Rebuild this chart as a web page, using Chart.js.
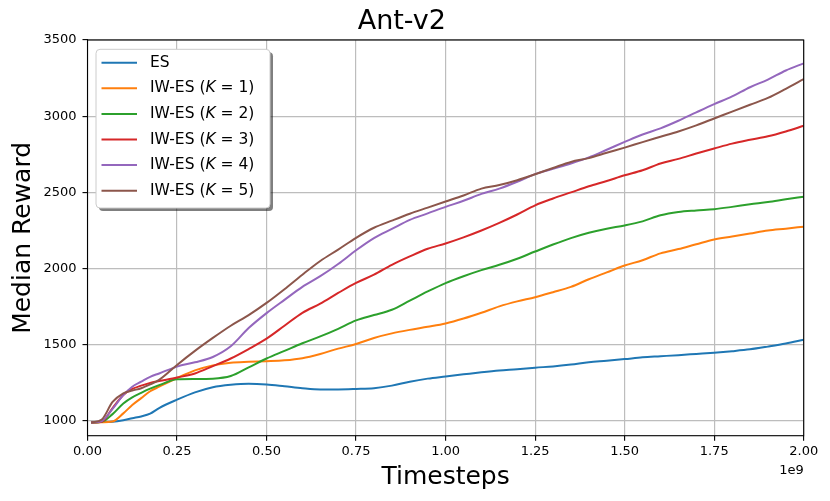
<!DOCTYPE html>
<html>
<head>
<meta charset="utf-8">
<script src="https://cdn.jsdelivr.net/npm/chart.js@4.4.1/dist/chart.umd.min.js"></script>
<style>
  html, body { margin: 0; padding: 0; background: #fff; }
  #wrap { width: 830px; height: 501px; position: relative; }
</style>
</head>
<body>
<div id="wrap"><canvas id="chart"></canvas></div>
<script>
// ---------- data (timesteps in units of 1e9) ----------
const timesteps = [0.01, 0.04, 0.07, 0.1, 0.125, 0.15, 0.175, 0.2, 0.25, 0.3, 0.35, 0.4, 0.45, 0.5,
  0.55, 0.6, 0.65, 0.7, 0.75, 0.8, 0.85, 0.9, 0.95, 1.0, 1.05, 1.1, 1.15, 1.2, 1.25, 1.3, 1.35,
  1.4, 1.45, 1.5, 1.55, 1.6, 1.65, 1.7, 1.75, 1.8, 1.85, 1.9, 1.95, 2.0];

const esReward = [990, 993, 995, 1005, 1018, 1030, 1048, 1085, 1140, 1188, 1222, 1238, 1245, 1240,
  1228, 1215, 1207, 1207, 1210, 1215, 1232, 1258, 1278, 1292, 1306, 1320, 1332, 1340, 1350, 1358, 1370,
  1385, 1395, 1406, 1418, 1425, 1432, 1440, 1448, 1458, 1470, 1488, 1508, 1533];

const iwK1Reward = [990, 992, 997, 1050, 1105, 1150, 1195, 1225, 1282, 1332, 1365, 1382, 1388, 1392,
  1398, 1412, 1440, 1475, 1505, 1545, 1575, 1598, 1618, 1640, 1672, 1710, 1752, 1785, 1812, 1845, 1880,
  1930, 1975, 2020, 2055, 2100, 2128, 2160, 2191, 2210, 2230, 2250, 2262, 2275];

const iwK2Reward = [990, 995, 1045, 1115, 1155, 1185, 1212, 1235, 1274, 1276, 1278, 1295, 1352, 1410,
  1460, 1510, 1555, 1605, 1660, 1695, 1730, 1790, 1850, 1905, 1950, 1990, 2025, 2065, 2112, 2158, 2200,
  2235, 2262, 2283, 2310, 2350, 2372, 2382, 2390, 2405, 2422, 2437, 2455, 2472];

const iwK3Reward = [990, 995, 1085, 1170, 1210, 1232, 1250, 1262, 1285, 1312, 1360, 1410, 1472, 1540,
  1625, 1710, 1770, 1840, 1906, 1960, 2025, 2080, 2130, 2165, 2205, 2250, 2300, 2355, 2415, 2460, 2500,
  2540, 2575, 2612, 2645, 2690, 2720, 2755, 2788, 2820, 2845, 2868, 2900, 2937];

const iwK4Reward = [990, 1000, 1080, 1170, 1225, 1258, 1290, 1312, 1357, 1385, 1420, 1490, 1610, 1708,
  1795, 1880, 1950, 2030, 2120, 2200, 2260, 2320, 2362, 2405, 2445, 2490, 2525, 2570, 2620, 2655, 2690,
  2730, 2780, 2831, 2880, 2920, 2970, 3025, 3079, 3130, 3190, 3240, 3300, 3347];

const iwK5Reward = [990, 1010, 1125, 1182, 1200, 1215, 1240, 1270, 1368, 1460, 1545, 1625, 1695, 1775,
  1865, 1960, 2050, 2125, 2202, 2268, 2315, 2360, 2400, 2440, 2480, 2525, 2548, 2580, 2619, 2660, 2700,
  2725, 2760, 2794, 2830, 2865, 2900, 2940, 2985, 3030, 3075, 3120, 3180, 3244];

const seriesNames = ['ES', 'IW-ES', 'IW-ES', 'IW-ES', 'IW-ES', 'IW-ES'];
const seriesK     = [null, 1, 2, 3, 4, 5];
const seriesData  = [esReward, iwK1Reward, iwK2Reward, iwK3Reward, iwK4Reward, iwK5Reward];
const seriesColors = ['#1f77b4', '#ff7f0e', '#2ca02c', '#d62728', '#9467bd', '#8c564b'];

const xTickValues = [0, 0.25, 0.5, 0.75, 1.0, 1.25, 1.5, 1.75, 2.0];
const yTickValues = [1000, 1500, 2000, 2500, 3000, 3500];

// ---------- look ----------
const FONT = 'DejaVu Sans';
Chart.defaults.font.family = FONT;
Chart.defaults.color = '#000';

const datasets = seriesData.map((vals, i) => ({
  label: seriesK[i] ? `${seriesNames[i]} (K = ${seriesK[i]})` : seriesNames[i],
  data: timesteps.map((t, j) => ({ x: t, y: vals[j] })),
  borderColor: seriesColors[i],
  backgroundColor: seriesColors[i],
  borderWidth: 2,
  pointRadius: 0,
  cubicInterpolationMode: 'monotone',
  order: seriesData.length - i
}));

// spines, legend box and the 1e9 offset text
const frameAndLegend = {
  id: 'frameAndLegend',
  afterDatasetsDraw(chart) {
    const { ctx, chartArea: a } = chart;
    ctx.save();

    ctx.strokeStyle = '#000';
    ctx.lineWidth = 1.1;
    ctx.strokeRect(a.left, a.top, a.right - a.left, a.bottom - a.top);

    const bx = a.left + 8.5, by = a.top + 9.3, bw = 174, bh = 158.7;
    const box = (x, y) => {
      ctx.beginPath();
      ctx.roundRect(x, y, bw, bh, 4);
    };
    ctx.fillStyle = 'rgba(0,0,0,0.5)';
    box(bx + 3, by + 3); ctx.fill();
    ctx.fillStyle = '#fff';
    box(bx, by); ctx.fill();
    ctx.strokeStyle = '#cccccc';
    ctx.lineWidth = 1;
    ctx.stroke();

    const fs = 15.5;
    ctx.textBaseline = 'middle';
    ctx.textAlign = 'left';
    seriesData.forEach((_, i) => {
      const y = by + 13.4 + i * 25.6;
      ctx.strokeStyle = seriesColors[i];
      ctx.lineWidth = 2;
      ctx.beginPath();
      ctx.moveTo(bx + 5.5, y);
      ctx.lineTo(bx + 41, y);
      ctx.stroke();

      ctx.fillStyle = '#000';
      let x = bx + 54;
      const put = (txt, italic) => {
        ctx.font = `${italic ? 'italic ' : ''}${fs}px "${FONT}"`;
        ctx.fillText(txt, x, y);
        x += ctx.measureText(txt).width;
      };
      if (seriesK[i]) {
        put(seriesNames[i] + ' (');
        put('K', true);
        put(' = ' + seriesK[i] + ')');
      } else {
        put(seriesNames[i]);
      }
    });

    ctx.font = `13px "${FONT}"`;
    ctx.fillStyle = '#000';
    ctx.textAlign = 'right';
    ctx.fillText('1e9', a.right, a.bottom + 34.5);
    ctx.restore();
  }
};

new Chart(document.getElementById('chart'), {
  type: 'line',
  data: { datasets },
  plugins: [frameAndLegend],
  options: {
    responsive: true,
    maintainAspectRatio: false,
    animation: false,
    layout: { padding: { left: 0, right: 26.3, top: 0, bottom: 0 } },
    plugins: {
      legend: { display: false },
      tooltip: { enabled: false },
      title: {
        display: true,
        text: 'Ant-v2',
        font: { size: 27, weight: 'normal' },
        color: '#000',
        padding: { top: 6, bottom: 1.6 }
      }
    },
    scales: {
      x: {
        type: 'linear',
        min: 0,
        max: 2,
        afterFit: s => { s.height = 65.3; },
        afterBuildTicks: s => { s.ticks = xTickValues.map(v => ({ value: v })); },
        ticks: {
          callback: v => v.toFixed(2),
          font: { size: 13 },
          padding: 3.5,
          maxRotation: 0,
          autoSkip: false
        },
        grid: { color: '#bdbdbd', lineWidth: 1.2, tickLength: 5, tickColor: '#000', tickWidth: 1.1 },
        border: { display: false },
        title: { display: true, text: 'Timesteps', font: { size: 25 }, padding: { top: 0, bottom: 9 } }
      },
      y: {
        min: 903.5,
        max: 3500,
        afterFit: s => { s.width = 87.5; },
        afterBuildTicks: s => { s.ticks = yTickValues.map(v => ({ value: v })); },
        ticks: { callback: v => String(v), font: { size: 13 }, padding: 6, autoSkip: false },
        grid: { color: '#bdbdbd', lineWidth: 1.2, tickLength: 5, tickColor: '#000', tickWidth: 1.1 },
        border: { display: false },
        title: { display: true, text: 'Median Reward', font: { size: 25 }, padding: { top: 8, bottom: 0 } }
      }
    }
  }
});
</script>
</body>
</html>
